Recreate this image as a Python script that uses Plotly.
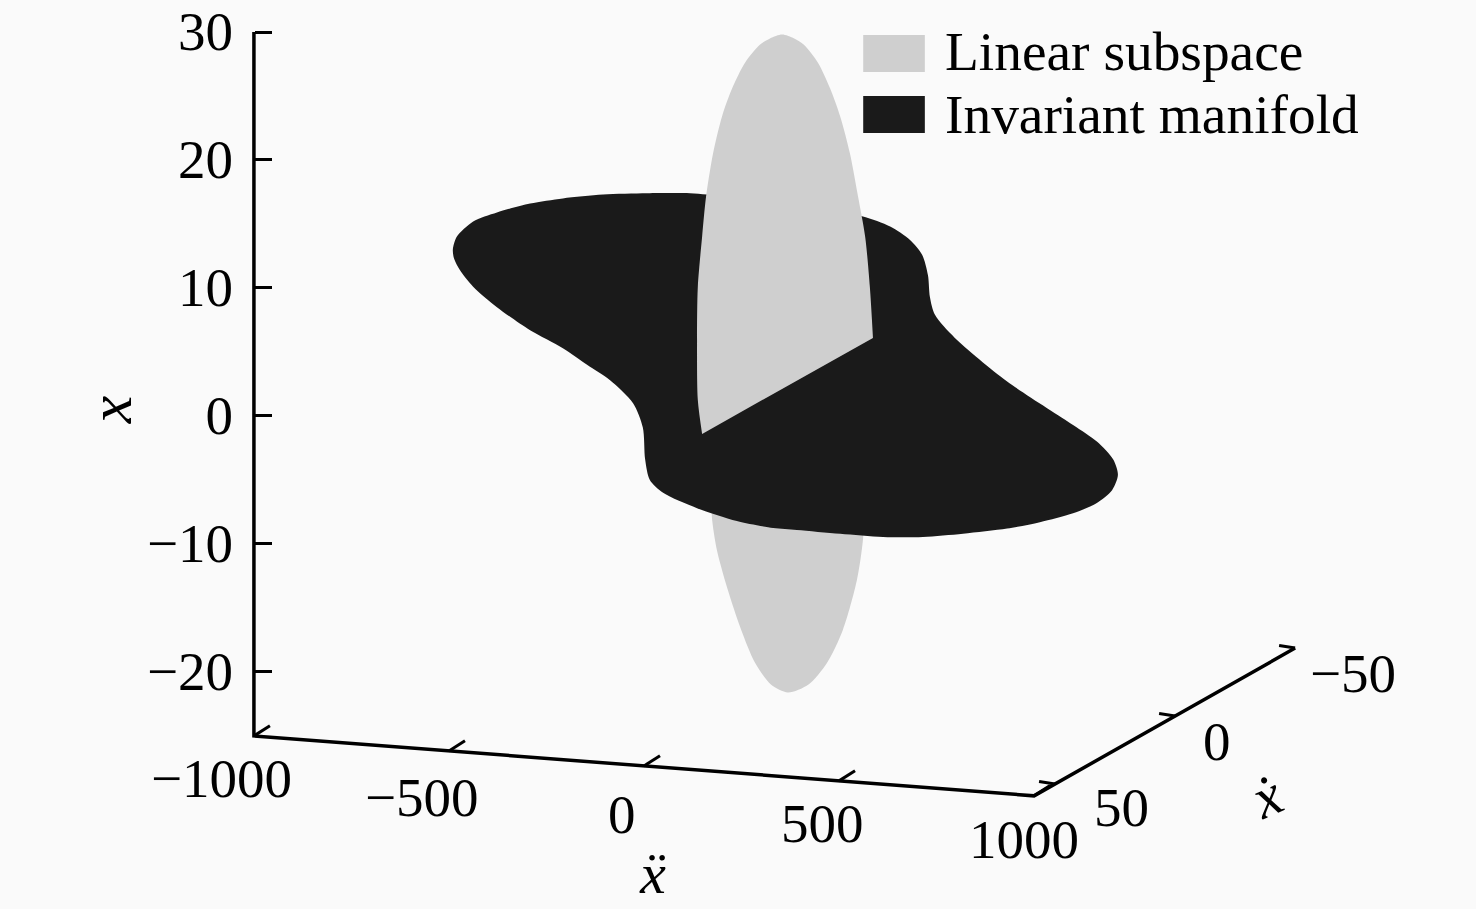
import plotly.graph_objects as go

# x-axis ticks (floor axes are oblique, so they are projected by hand below)
x_ticks = [30, 20, 10, 0, -10, -20]
x_labels = ['30', '20', '10', '0', '\u221210', '\u221220']
xdd_ticks = [-1000, -500, 0, 500, 1000]
xd_ticks = [50, 0, -50]
xdd_labels = ['\u22121000', '\u2212500', '0', '500', '1000']
xd_labels = ['50', '0', '\u221250']

# outlines, as apparent x-double-dot (horizontal) and x (vertical)
manifold_u = [-490, -480, -438, -377, -292, -208, -105, 8, 118, 162, 349, 559, 631, 682, 713, 728, 733, 746, 797,
              931, 1100, 1161, 1203, 1215, 1200, 1161, 1100, 1015, 931, 818, 715, 613, 503, 392, 331,
              238, 136, 49, 15, 3, -3, -28, -87, -146, -208, -292, -377, -438, -472, -487, -490]
manifold_v = [13.0, 14.0, 15.2, 15.9, 16.6, 17.0, 17.3, 17.4, 17.4, 17.3, 16.9, 15.6, 14.8, 13.75, 12.6, 11.0, 9.3,
              7.9, 6.1, 2.7, -0.7, -2.0, -3.4, -4.6, -5.8, -6.8, -7.6, -8.3, -8.8, -9.2, -9.45, -9.45,
              -9.2, -8.9, -8.75, -8.2, -7.2, -6.0, -5.0, -3.4, -0.9, 1.0, 2.8, 4.0, 5.3, 6.7, 8.5, 10.1, 11.4, 12.3,
              13.0]
linear_top_u = [149, 138, 136, 138, 149, 159, 177, 200, 226, 259, 297, 323, 354, 385, 410, 446, 477, 503, 528, 549,
                567, 579, 587]
linear_top_v = [-1.4, 1.25, 5.9, 10.1, 14.0, 17.1, 20.5, 23.4, 25.6, 27.6, 29.0, 29.5, 29.8, 29.5, 29.0, 27.6, 25.6,
                23.4, 20.5, 17.1, 14.0, 10.1, 6.1]
linear_low_u = [174, 174, 187, 213, 249, 285, 326, 369, 421, 469, 510, 546, 562, 564]
linear_low_v = [-6.6, -7.9, -10.5, -13.4, -16.7, -19.3, -21.0, -21.6, -21.0, -19.3, -16.7, -12.8, -9.45, -6.6]

GREY = '#cfcfcf'
BLACK = '#1a1a1a'
FONT = 'Liberation Serif'


def floor_xdd(xdd):
    return xdd, -25 - (xdd + 1000) * 0.00234


def floor_xd(xd):
    return 1000 + (58.75 - xd) * 6.154, -29.69 + (58.75 - xd) * 0.10625


def polygon(u, v, color, name):
    return go.Scatter(x=u, y=v, mode='lines', fill='toself', fillcolor=color, name=name, hoverinfo='name',
                      line=dict(width=0, shape='spline', smoothing=0.8), showlegend=False)


fig = go.Figure()
fig.add_trace(polygon(linear_low_u, linear_low_v, GREY, 'Linear subspace'))
fig.add_trace(polygon(manifold_u, manifold_v, BLACK, 'Invariant manifold'))
fig.add_trace(polygon(linear_top_u, linear_top_v, GREY, 'Linear subspace'))

# the three axis lines, x is drawn here too so it can stop at the corner
axis_u = [floor_xdd(-1000)[0], floor_xdd(-1000)[0], floor_xdd(1000)[0], floor_xd(-50)[0]]
axis_v = [30, floor_xdd(-1000)[1], floor_xdd(1000)[1], floor_xd(-50)[1]]
tick_u, tick_v = [], []
for t in xdd_ticks:
    u, v = floor_xdd(t)
    tick_u += [u, u + 41, None]
    tick_v += [v, v + 0.8, None]
for t in xd_ticks:
    u, v = floor_xd(t)
    tick_u += [u, u - 41, None]
    tick_v += [v, v + 0.2, None]
fig.add_trace(go.Scatter(x=axis_u, y=axis_v, mode='lines', line=dict(color='black', width=3.5),
                         showlegend=False, hoverinfo='skip'))
fig.add_trace(go.Scatter(x=tick_u, y=tick_v, mode='lines', line=dict(color='black', width=3),
                         showlegend=False, hoverinfo='skip'))

annotations = []
xdd_shift = [(-32, -43), (-27, -47), (-22, -49), (-17, -43), (-10, -44)]
for t, lab, s in zip(xdd_ticks, xdd_labels, xdd_shift):
    u, v = floor_xdd(t)
    annotations.append(dict(x=u, y=v, text=lab, xshift=s[0], yshift=s[1]))
xd_shift = [(66, -23), (42, -25), (58, -25)]
for t, lab, s in zip(xd_ticks, xd_labels, xd_shift):
    u, v = floor_xd(t)
    annotations.append(dict(x=u, y=v, text=lab, xshift=s[0], yshift=s[1]))
for a in annotations:
    a.update(showarrow=False, font=dict(family=FONT, size=55, color='black'))

# axis titles
annotations.append(dict(x=-1370, y=0.5, text='<i>x</i>', textangle=-90, showarrow=False,
                        font=dict(family=FONT, size=62, color='black')))
annotations.append(dict(x=23, y=-35.75, text='<i>\u1e8d</i>', showarrow=False,
                        font=dict(family=FONT, size=58, color='black')))
annotations.append(dict(x=1597, y=-29.75, text='<i>\u1e8b</i>', textangle=-24, showarrow=False,
                        font=dict(family=FONT, size=58, color='black')))

# legend keys
annotations.append(dict(x=767, y=28.44, text='Linear subspace', xanchor='left', showarrow=False,
                        font=dict(family=FONT, size=55.4, color='black')))
annotations.append(dict(x=767, y=23.58, text='Invariant manifold', xanchor='left', showarrow=False,
                        font=dict(family=FONT, size=55.4, color='black')))
shapes = [
    dict(type='rect', x0=562, x1=720, y0=26.87, y1=29.77, fillcolor=GREY, line_width=0),
    dict(type='rect', x0=562, x1=720, y0=22.11, y1=25.0, fillcolor=BLACK, line_width=0),
]

fig.update_layout(
    width=1476, height=909,
    margin=dict(l=0, r=0, t=0, b=0),
    paper_bgcolor='#fafafa', plot_bgcolor='#fafafa',
    annotations=annotations, shapes=shapes, showlegend=False,
    xaxis=dict(range=[-1651, 2133], visible=False),
    yaxis=dict(range=[-38.52, 32.5], anchor='free', position=254 / 1476, showgrid=False, zeroline=False,
               showline=False, ticks='inside', ticklen=17, tickwidth=3,
               tickcolor='black', tickvals=x_ticks, ticktext=x_labels, ticklabeloverflow='allow',
               tickfont=dict(family=FONT, size=55, color='black'), ticklabelstandoff=21, ticklabelshift=-1),
)
fig.write_html("out.html", config=dict(displayModeBar=False), post_script="document.body.style.margin='0';")
